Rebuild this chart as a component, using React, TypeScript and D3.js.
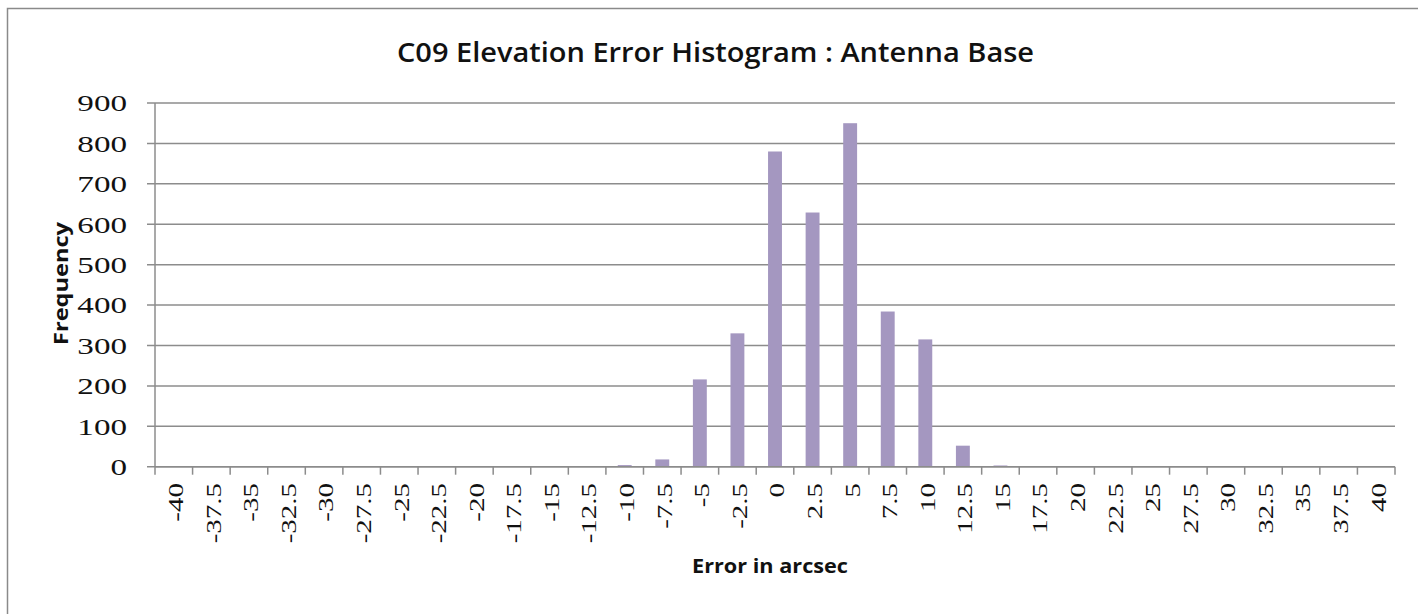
import React from "react";
import * as d3 from "d3";

const categories: string[] = [
  "-40", "-37.5", "-35", "-32.5", "-30", "-27.5", "-25", "-22.5", "-20", "-17.5", "-15", "-12.5",
  "-10", "-7.5", "-5", "-2.5", "0", "2.5", "5", "7.5", "10", "12.5", "15", "17.5", "20",
  "22.5", "25", "27.5", "30", "32.5", "35", "37.5", "40",
];
const frequency: number[] = [
  0, 0, 0, 0, 0, 0, 0, 0, 0, 0, 0, 0,
  4, 18, 216, 330, 780, 629, 850, 384, 315, 52, 3, 0, 0,
  0, 0, 0, 0, 0, 0, 0, 0,
];
const yTicks: number[] = [0, 100, 200, 300, 400, 500, 600, 700, 800, 900];

const title = "C09 Elevation Error Histogram : Antenna Base";
const xTitle = "Error in arcsec";
const yTitle = "Frequency";

export default function App() {
  const W = 1418;
  const H = 614;
  const left = 155;
  const right = 1395;
  const top = 103;
  const bottom = 466.7;

  const x = d3.scaleBand<string>().domain(categories).range([left, right]);
  const y = d3.scaleLinear().domain([0, 900]).range([bottom, top]);
  const bw = x.bandwidth();
  const barW = bw * 0.37;

  const grid = "#8c8c8c";
  const boundaries = categories.map((c) => x(c) as number).concat([right]);

  return (
    <svg
      width={W}
      height={H}
      style={{ position: "absolute", left: 0, top: 0, background: "#fff" }}
    >
      <rect x={0} y={0} width={W} height={H} fill="#fff" />
      <rect x={7.5} y={8.5} width={W + 20} height={H + 20} fill="#fff" stroke="#8a8a8a" strokeWidth={1.5} />

      {/* title */}
      <text
        x={397}
        y={62}
        fontFamily="'Open Sans', 'Liberation Sans', sans-serif"
        fontWeight={600}
        fontSize={27}
        textLength={637}
        lengthAdjust="spacingAndGlyphs"
        fill="#111"
      >
        {title}
      </text>

      {/* gridlines */}
      {yTicks.map((t) => (
        <line key={"g" + t} x1={left - 8} x2={right} y1={y(t)} y2={y(t)} stroke={grid} strokeWidth={1.5} />
      ))}

      {/* y axis */}
      <line x1={left} x2={left} y1={top} y2={bottom} stroke={grid} strokeWidth={1.5} />
      {yTicks.map((t) => (
        <text
          key={"yl" + t}
          transform={`translate(127,${y(t)}) scale(1.38,1)`}
          textAnchor="end"
          dy="0.35em"
          fontFamily="'Liberation Serif', 'DejaVu Serif', serif"
          fontSize={24}
          fill="#111"
        >
          {t}
        </text>
      ))}

      {/* bars */}
      {categories.map((c, i) =>
        frequency[i] > 0 ? (
          <rect
            key={"b" + c}
            x={(x(c) as number) + (bw - barW) / 2}
            y={y(frequency[i])}
            width={barW}
            height={bottom - y(frequency[i])}
            fill="#a497c0"
          />
        ) : null
      )}

      {/* x axis */}
      <line x1={left} x2={right} y1={bottom} y2={bottom} stroke={grid} strokeWidth={1.5} />
      {boundaries.map((b, i) => (
        <line key={"t" + i} x1={b} x2={b} y1={bottom} y2={bottom + 8} stroke={grid} strokeWidth={1.5} />
      ))}
      {categories.map((c) => (
        <text
          key={"xl" + c}
          transform={`translate(${(x(c) as number) + bw / 2 + 2},483) scale(1,1.38) rotate(-90)`}
          textAnchor="end"
          dy="0.35em"
          fontFamily="'Liberation Serif', 'DejaVu Serif', serif"
          fontSize={21}
          fill="#111"
        >
          {c}
        </text>
      ))}

      {/* axis titles */}
      <text
        x={692}
        y={573}
        fontFamily="'Open Sans', 'Liberation Sans', sans-serif"
        fontWeight={700}
        fontSize={19}
        textLength={156}
        lengthAdjust="spacingAndGlyphs"
        fill="#111"
      >
        {xTitle}
      </text>
      <text
        transform={`translate(68,345) rotate(-90)`}
        fontFamily="'Open Sans', 'Liberation Sans', sans-serif"
        fontWeight={700}
        fontSize={19}
        textLength={123}
        lengthAdjust="spacingAndGlyphs"
        fill="#111"
      >
        {yTitle}
      </text>
    </svg>
  );
}
